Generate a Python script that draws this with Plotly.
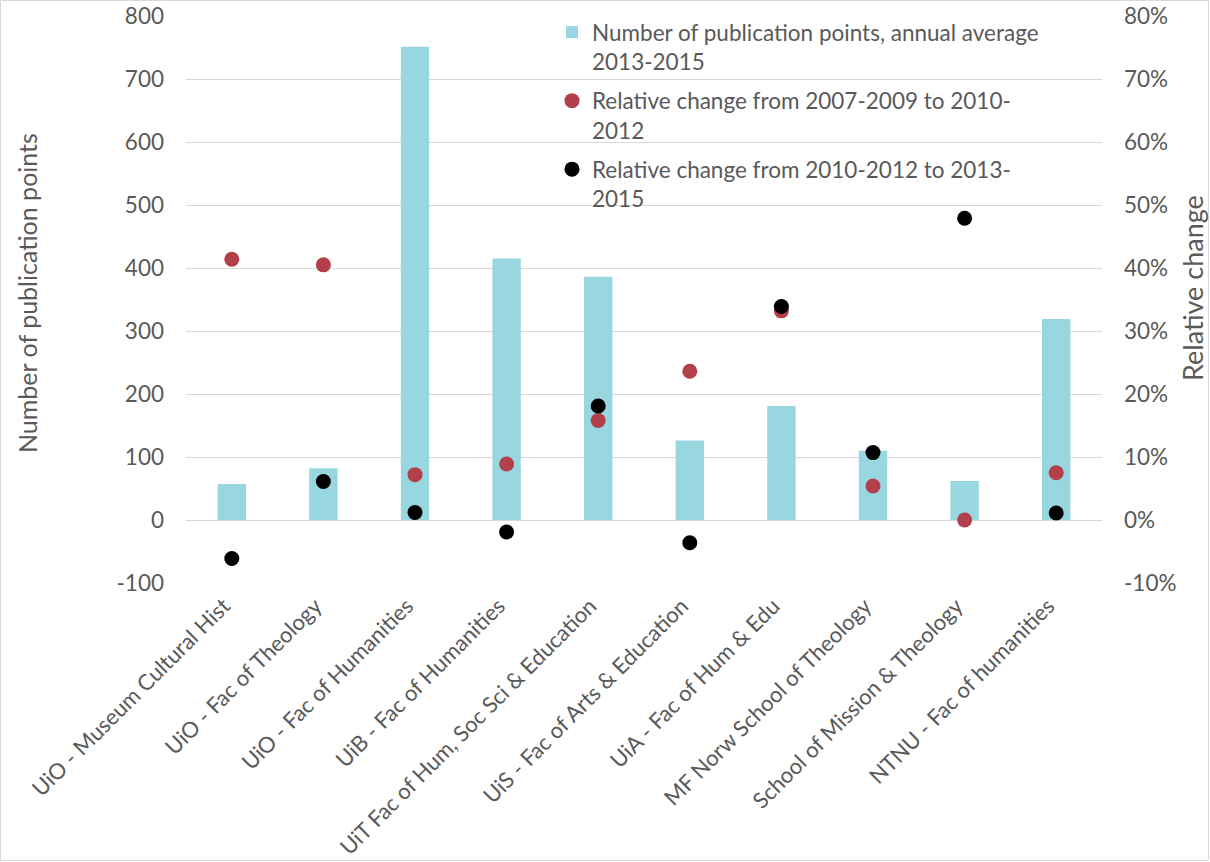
import plotly.graph_objects as go

categories = [
    "UiO - Museum Cultural Hist",
    "UiO - Fac of Theology",
    "UiO - Fac of Humanities",
    "UiB - Fac of Humanities",
    "UiT Fac of Hum, Soc Sci & Education",
    "UiS - Fac of Arts & Education",
    "UiA - Fac of Hum & Edu",
    "MF Norw School of Theology",
    "School of Mission & Theology",
    "NTNU - Fac of humanities",
]
pub_points = [57, 82, 751, 415, 386, 126, 181, 110, 62, 319]
change_07_10 = [0.414, 0.405, 0.072, 0.089, 0.158, 0.236, 0.332, 0.054, 0.000, 0.075]
change_10_13 = [-0.061, 0.061, 0.012, -0.019, 0.181, -0.036, 0.339, 0.107, 0.479, 0.011]

left_ticks = [-100, 0, 100, 200, 300, 400, 500, 600, 700, 800]
left_ticktext = ["-100", "0", "100", "200", "300", "400", "500", "600", "700", "800"]
right_ticks = [-0.1, 0, 0.1, 0.2, 0.3, 0.4, 0.5, 0.6, 0.7, 0.8]
right_ticktext = ["-10%", "0%", "10%", "20%", "30%", "40%", "50%", "60%", "70%", "80%"]

names = [
    "Number of publication points, annual average<br>2013-2015",
    "Relative change from 2007-2009 to 2010-<br>2012",
    "Relative change from 2010-2012 to 2013-<br>2015",
]

FONT = "Lato, 'Open Sans', sans-serif"
GREY = "#595959"
FS = 22.5

fig = go.Figure()
fig.add_trace(go.Bar(x=categories, y=pub_points, name=names[0], legendgroup="a",
                     marker=dict(color="#98D7E0", line=dict(width=0)),
                     width=0.31, yaxis="y"))
fig.add_trace(go.Scatter(x=categories, y=change_07_10, name=names[1], mode="markers",
                         legendgroup="b",
                         marker=dict(color="#B33F4B", size=15), yaxis="y2"))
fig.add_trace(go.Scatter(x=categories, y=change_10_13, name=names[2], mode="markers",
                         legendgroup="c",
                         marker=dict(color="#000000", size=15), yaxis="y2"))

L, R, T, B = 186, 108, 16, 279
W, H = 1210, 862
pw, ph = W - L - R, H - T - B

fig.update_layout(
    width=W, height=H,
    margin=dict(l=L, r=R, t=T, b=B, autoexpand=False),
    paper_bgcolor="white", plot_bgcolor="white",
    font=dict(family=FONT, size=FS, color=GREY),
    showlegend=True,
    legend=dict(x=(552 - L) / pw, y=1 + (T - 11) / ph, xanchor="left", yanchor="top",
                bgcolor="rgba(0,0,0,0)", font=dict(size=FS, color=GREY),
                valign="top", tracegroupgap=7, itemwidth=30),
    xaxis=dict(range=[-0.5, len(categories) - 0.5],
               tickangle=-45, showgrid=False, showline=False, ticks="", automargin=False,
               ticklabelshift=-8, ticklabelstandoff=5,
               tickfont=dict(size=22, color=GREY)),
    yaxis=dict(range=[-100, 800], tickvals=left_ticks, ticktext=left_ticktext,
               showgrid=True, gridcolor="#D9D9D9", automargin=False,
               gridwidth=1.3, zeroline=False, showline=False, ticklabelstandoff=21,
               tickfont=dict(size=FS, color=GREY)),
    yaxis2=dict(range=[-0.1, 0.8], tickvals=right_ticks, ticktext=right_ticktext,
                overlaying="y", side="right", automargin=False,
                showgrid=False, zeroline=False, showline=False, ticklabelstandoff=21,
                tickfont=dict(size=FS, color=GREY)),
    annotations=[
        dict(text="Number of publication points", xref="paper", yref="paper",
             x=(27 - L) / pw, y=1 - (293 - T) / ph, textangle=-90, showarrow=False,
             xanchor="center", yanchor="middle", font=dict(size=25, color=GREY)),
        dict(text="Relative change", xref="paper", yref="paper",
             x=(1192 - L) / pw, y=1 - (288 - T) / ph, textangle=-90, showarrow=False,
             xanchor="center", yanchor="middle", font=dict(size=27, color=GREY)),
    ],
    shapes=[dict(type="rect", xref="paper", yref="paper",
                 x0=(0.5 - L) / pw, x1=(W - 1.5 - L) / pw,
                 y0=1 - (H - 1.5 - T) / ph, y1=1 + (T - 0.5) / ph,
                 line=dict(color="#D9D9D9", width=1), layer="below")],
)

fig.write_html(
    "out.html",
    config={"displayModeBar": False},
    post_script="document.body.style.margin='0';document.body.style.overflow='hidden';",
)
